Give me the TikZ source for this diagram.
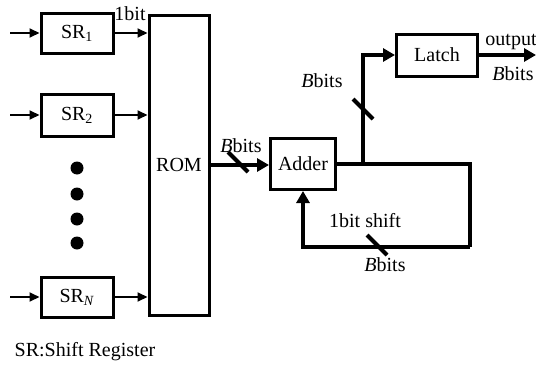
\documentclass[tikz,border=0pt]{standalone}
\usepackage{fontspec}
\setmainfont{Liberation Serif}
\usepackage{tikz}
\usetikzlibrary{arrows.meta, calc, positioning}

\begin{document}
\begin{tikzpicture}[x=1pt, y=-1pt,
    font=\fontsize{20}{23}\selectfont,
    blk/.style={draw, line width=3pt, inner sep=0pt},
    sig/.style={line width=2pt, -{Triangle[length=10pt, width=9pt]}},
    bus/.style={line width=4pt},
    busarr/.style={bus, -{Triangle[length=12pt, width=13pt]}}]
    \useasboundingbox (0,0) rectangle (536,367);

    % Schieberegister links
    \node[blk, minimum width=72pt, minimum height=40pt] (sr1) at (77,33) {SR\textsubscript{1}};
    \node[blk, minimum width=72pt, minimum height=42pt] (sr2) at (77,115) {SR\textsubscript{2}};
    \node[blk, minimum width=72pt, minimum height=40pt] (srn) at (77,297) {SR\textsubscript{\textit{N}}};
    \fill (77,168) circle (6.5);
    \fill (77,194) circle (6.5);
    \fill (77,219) circle (6.5);
    \fill (77,243) circle (6.5);

    % ROM
    \node[blk, minimum width=60pt, minimum height=300pt] (rom) at (179,165) {ROM};

    \coordinate (in1) at (10,33);
    \coordinate (in2) at (10,115);
    \coordinate (inn) at (10,297);
    \draw[sig] (in1) -- (sr1.west);
    \draw[sig] (in2) -- (sr2.west);
    \draw[sig] (inn) -- (srn.west);
    \draw[sig] (sr1.east) -- (sr1.east -| rom.west);
    \draw[sig] (sr2.east) -- (sr2.east -| rom.west);
    \draw[sig] (srn.east) -- (srn.east -| rom.west);
    \node (lbit) at (130,14) {1bit};

    % Addierer und Latch
    \node[blk, minimum width=65pt, minimum height=51pt] (adder) at (303,164) {Adder};
    \node[blk, minimum width=81pt, minimum height=42pt] (latch) at (437,55) {Latch};

    \draw[busarr] (rom.east) -- (rom.east -| adder.west);
    \draw[bus] (238,162) ++(-10,-10) -- ++(20,20);
    \node (lbus) at (241,146) {\textit{B}bits};

    % Rueckkopplung
    \coordinate (tap) at (363,164);
    \coordinate (fbr) at (470,164);
    \coordinate (fbb) at (470,247);
    \draw[bus] (adder.east |- tap) -- (fbr) -- (fbb);
    \draw[busarr] (fbb) -- (adder.south |- fbb) -- (adder.south);
    \draw[bus] (377,245) ++(-10,-10) -- ++(20,20);
    \node (lshift) at (365,221) {1bit shift};
    \node (lfb) at (385,265) {\textit{B}bits};

    % Zweig zum Latch
    \draw[busarr] (tap) -- (tap |- latch.west) -- (latch.west);
    \draw[bus] (363,109) ++(-10,-10) -- ++(20,20);
    \node (lup) at (322,81) {\textit{B}bits};

    % Ausgang
    \coordinate (out) at (536,55);
    \draw[busarr] (latch.east) -- (out);
    \node (lout) at (511,42) {output};
    \node (loutb) at (513,74) {\textit{B}bits};

    \node (legend) at (85,352) {SR:Shift Register};
\end{tikzpicture}
\end{document}
